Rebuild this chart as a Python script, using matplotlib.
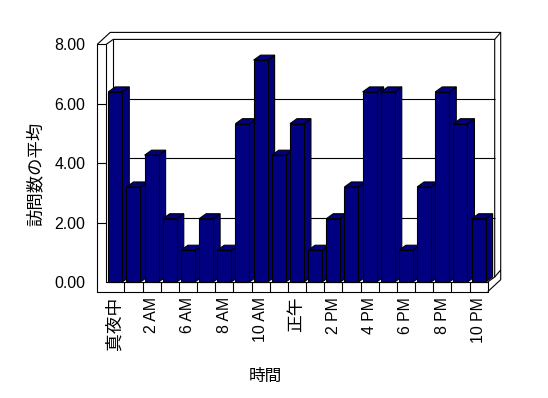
import matplotlib.pyplot as plt

plt.rcParams['font.family'] = ['Liberation Sans', 'Noto Sans CJK JP']

# average visits per hour (some hours have no data)
hours = ['真夜中', '1 AM', '2 AM', '3 AM', '6 AM', '7 AM', '8 AM', '9 AM', '10 AM', '11 AM',
         '正午', '1 PM', '2 PM', '3 PM', '4 PM', '5 PM', '6 PM', '7 PM', '8 PM', '9 PM', '10 PM']
visits = [6.40, 3.20, 4.27, 2.13, 1.07, 2.13, 1.07, 5.33, 7.47, 4.27,
          5.33, 1.07, 2.13, 3.20, 6.40, 6.40, 1.07, 3.20, 6.40, 5.33, 2.13]
yticks = [0, 2, 4, 6, 8]

NAVY = '#000080'
LW = 0.8

W_PX, H_PX = 548, 398
left, right = 106.2, 487.7   # plot front plane, pixels
top, bottom = 44.4, 282.0

fig = plt.figure(figsize=(W_PX / 100, H_PX / 100), dpi=100)
ax = fig.add_axes([left / W_PX, 1 - bottom / H_PX, (right - left) / W_PX, (bottom - top) / H_PX])
n = len(visits)
ymax = yticks[-1]
ax.set_xlim(-0.5, n - 0.5)
ax.set_ylim(0, ymax)
for s in ax.spines.values():
    s.set_visible(False)
ax.patch.set_visible(False)

sx = (right - left) / n
sy = (bottom - top) / ymax


def off(x, y, px, py):
    # shift a data point by a pixel offset (py positive = down in the picture)
    return x + px / sx, y - py / sy


def seg(pts, z=1):
    xs, ys = zip(*pts)
    ax.plot(xs, ys, color='black', lw=LW, clip_on=False, zorder=z, solid_capstyle='butt')


D = (7, -5)      # depth of the plot
DT = (13, -12)   # depth + wall thickness
WALL = 9
FLOOR = 9.7
x0, x1 = -0.5, n - 0.5
xw = off(x0, 0, -WALL, 0)[0]
yf = off(0, 0, 0, FLOOR)[1]

# back wall
for g in yticks[1:-1]:
    seg([off(x0, g, *D), off(x1, g, *D)])
seg([(x0, ymax), off(x0, ymax, *D), off(x1, ymax, *D), off(x1, 0, *D), (x1, 0)])
seg([off(x0, ymax, *D), off(x0, 0, *D)])
seg([off(x1, ymax, *D), off(x1, ymax, *DT)])
seg([(xw, ymax), off(xw, ymax, *DT), off(x1, ymax, *DT), off(x1, yf, *DT), (x1, yf)])
seg([off(x1, 0, *D), off(x1, 0, *DT)])

# left wall and floor front faces
seg([(x0, 0), (x0, ymax), (xw, ymax), (xw, yf), (x1, yf), (x1, 0), (x0, 0)], z=80)
for g in yticks[1:-1]:
    seg([(xw, g), (x0, g)], z=80)
for k in range(n - 1):
    seg([(k + 0.5, 0), (k + 0.5, yf)], z=80)

# bars
bw = 0.77
for i, v in enumerate(visits):
    xl, xr = i - bw / 2, i + bw / 2
    side = [(xr, 0), (xr, v), off(xr, v, *D), off(xr, 0, *D)]
    cap = [(xl, v), (xr, v), off(xr, v, *D), off(xl, v, *D)]
    ax.fill(*zip(*side), facecolor=NAVY, edgecolor='black', lw=LW, zorder=5 + 3 * i, clip_on=False)
    ax.fill(*zip(*cap), facecolor=NAVY, edgecolor='black', lw=LW, zorder=6 + 3 * i, clip_on=False)
bars = ax.bar(range(n), visits, width=bw, color=NAVY, edgecolor='black', lw=LW)
for i, b in enumerate(bars):
    b.set_zorder(7 + 3 * i)
    b.set_clip_on(False)

ax.set_yticks(yticks)
ax.set_yticklabels([f'{t:.2f}' for t in yticks], fontsize=11.4)
ax.set_xticks(range(0, n, 2))
ax.set_xticklabels(hours[::2], rotation=90, fontsize=11.4)
for lab in ax.get_xticklabels():
    if not lab.get_text().isascii():
        lab.set_fontsize(12.8)
ax.tick_params(axis='y', length=0, pad=15)
ax.tick_params(axis='x', length=0, pad=10.8)

fig.text(35 / W_PX, 1 - 174 / H_PX, '訪問数の平均', rotation=90, ha='center', va='center', fontsize=12.5)
fig.text(265 / W_PX, 1 - 376 / H_PX, '時間', ha='center', va='center', fontsize=12)

fig.savefig('out.png', dpi=100)
